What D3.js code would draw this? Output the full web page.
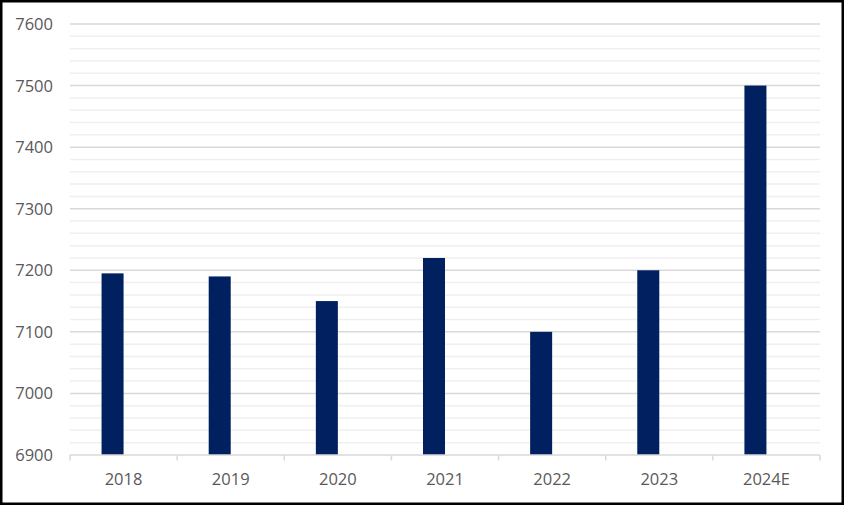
<!DOCTYPE html>
<html>
<head>
<meta charset="utf-8">
<script src="https://cdn.jsdelivr.net/npm/d3@7"></script>
<style>
  html, body { margin: 0; padding: 0; background: #fff; }
  svg { display: block; }
  text { font-family: "Open Sans", "Liberation Sans", sans-serif; fill: #595959; }
</style>
</head>
<body>
<div id="chart"></div>
<script>
const categories = ["2018", "2019", "2020", "2021", "2022", "2023", "2024E"];
const values = [7195, 7190, 7150, 7220, 7100, 7200, 7500];
const yTicks = [6900, 7000, 7100, 7200, 7300, 7400, 7500, 7600];
const yMinorTicks = d3.range(6900, 7601, 20);

(function () {
const W = 844, H = 505;
const svg = d3.select("#chart").append("svg").attr("width", W).attr("height", H);

svg.append("rect").attr("x", 0).attr("y", 0).attr("width", W).attr("height", H).attr("fill", "#fff");

const pLeft = 70, pRight = 820, pTop = 24, pBottom = 455;
const x = d3.scaleBand().domain(categories).range([pLeft, pRight]).padding(0);
const y = d3.scaleLinear().domain([6900, 7600]).range([pBottom, pTop]);

// minor gridlines
svg.append("g").selectAll("line").data(yMinorTicks.filter(v => v % 100 !== 0)).join("line")
  .attr("x1", pLeft).attr("x2", pRight)
  .attr("y1", d => y(d)).attr("y2", d => y(d))
  .attr("stroke", "#efefef").attr("stroke-width", 1.5);

// major gridlines
svg.append("g").selectAll("line").data(yTicks.filter(v => v !== 6900)).join("line")
  .attr("x1", pLeft).attr("x2", pRight)
  .attr("y1", d => y(d)).attr("y2", d => y(d))
  .attr("stroke", "#d9d9d9").attr("stroke-width", 1.5);

// bars (first series of a two-series cluster: left half of cluster)
const bw = x.bandwidth() * 0.2054;
svg.append("g").selectAll("rect").data(values).join("rect")
  .attr("x", (d, i) => x(categories[i]) + x.bandwidth() / 2 - bw)
  .attr("width", bw)
  .attr("y", d => y(d))
  .attr("height", d => y(6900) - y(d))
  .attr("fill", "#002060");

// x axis
const gx = svg.append("g").attr("transform", `translate(0,${pBottom})`);
gx.append("line").attr("x1", pLeft).attr("x2", pRight).attr("y1", 0).attr("y2", 0)
  .attr("stroke", "#d9d9d9").attr("stroke-width", 1.5);
const boundaries = categories.map(c => x(c)).concat([pRight]);
gx.selectAll("line.tk").data(boundaries).join("line").attr("class", "tk")
  .attr("x1", d => d).attr("x2", d => d).attr("y1", 0).attr("y2", 5.5)
  .attr("stroke", "#d9d9d9").attr("stroke-width", 1.5);
gx.selectAll("text").data(categories).join("text")
  .attr("x", d => x(d) + x.bandwidth() / 2)
  .attr("y", 30)
  .attr("text-anchor", "middle")
  .attr("font-size", "16.5px")
  .text(d => d);

// y axis labels
svg.append("g").selectAll("text").data(yTicks).join("text")
  .attr("x", 53).attr("y", d => y(d)).attr("dy", "0.36em")
  .attr("text-anchor", "end")
  .attr("font-size", "16.5px")
  .text(d => d);

// border
svg.append("rect").attr("x", 1.25).attr("y", 1.25).attr("width", W - 2.5).attr("height", H - 2.5)
  .attr("fill", "none").attr("stroke", "#000").attr("stroke-width", 2.5);
})();
</script>
</body>
</html>
